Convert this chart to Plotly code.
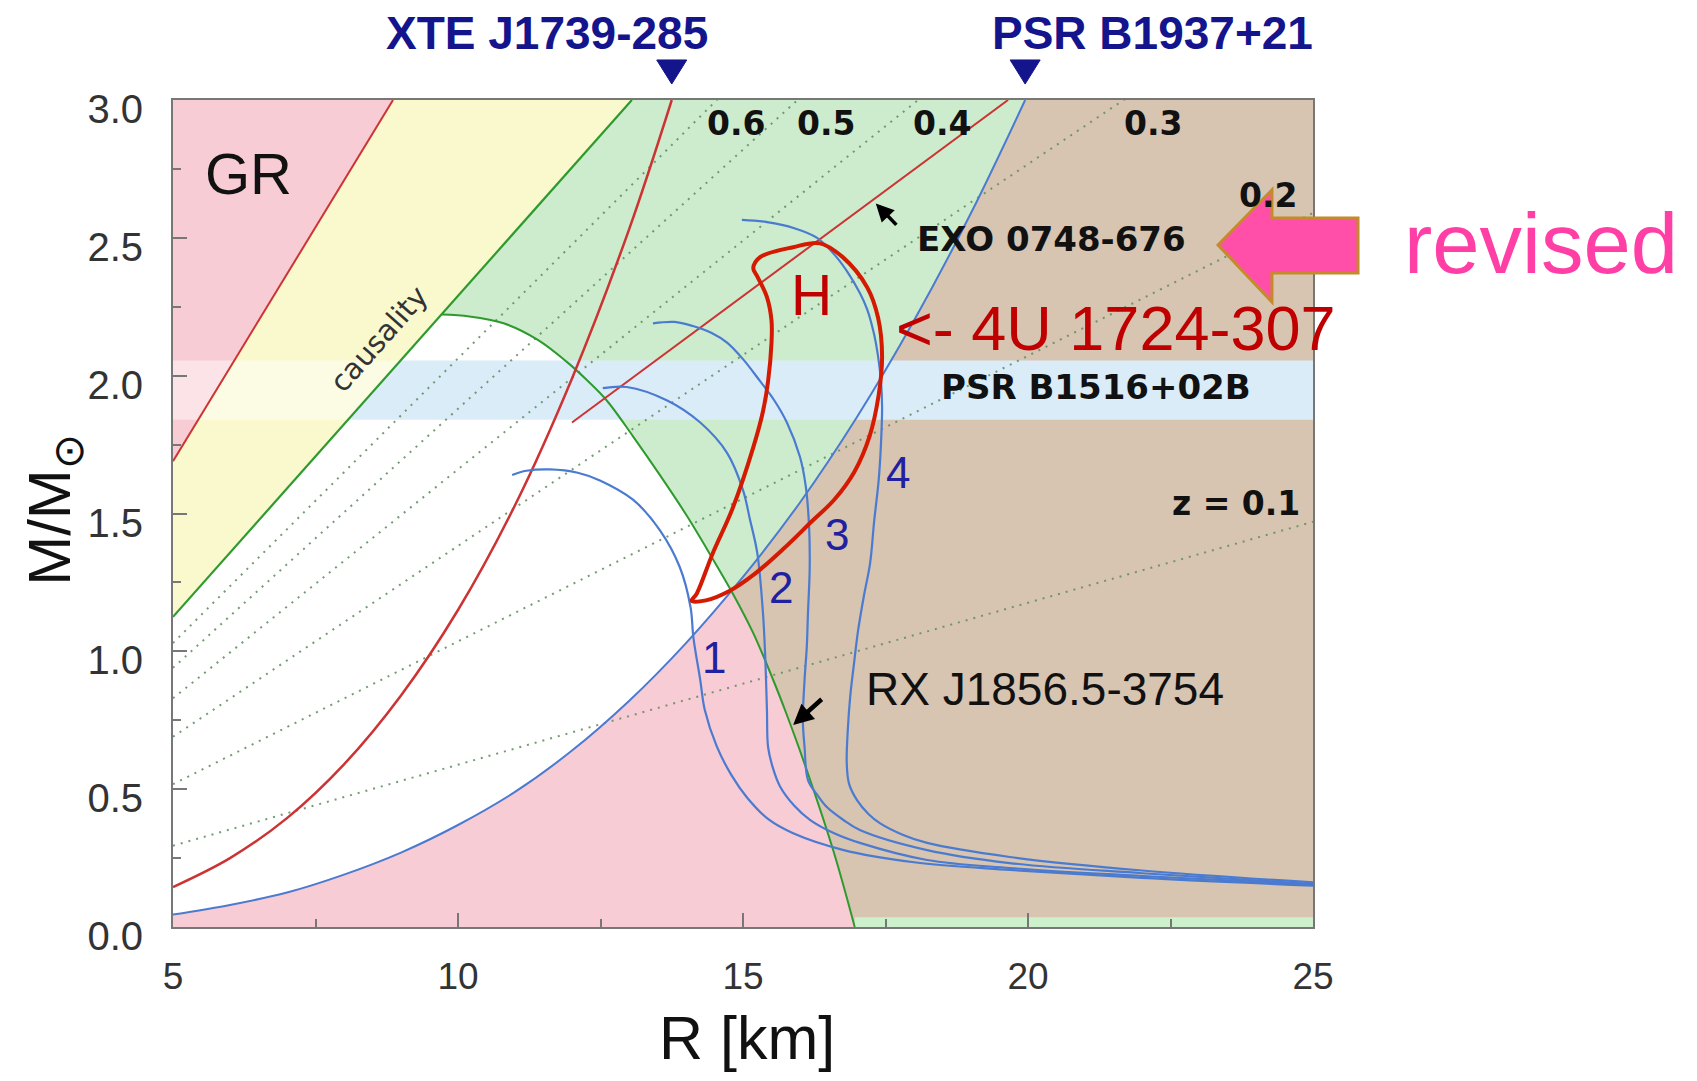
import numpy as np
import plotly.graph_objects as go

# ---------------- data (R in km, M in solar masses) ----------------
gr_R = [5.0, 8.86]
gr_M = [1.69, 3.0]

caus_R = [5.0, 13.05]
caus_M = [1.125, 3.0]

dome_R = [9.72, 10.2, 10.8, 11.4, 11.91, 12.26, 12.61, 13.07, 13.54, 14.02, 14.47, 14.82, 15.18, 15.53, 15.75, 16.05, 16.58, 16.96]
dome_M = [2.222, 2.215, 2.19, 2.13, 2.05, 1.984, 1.91, 1.78, 1.64, 1.49, 1.335, 1.21, 1.066, 0.896, 0.78, 0.61, 0.28, 0.0]

b1937_R = [5, 6, 7, 8, 9, 10, 11, 12, 13, 14, 15, 16, 17, 18, 19, 19.95]
b1937_M = [0.045, 0.08, 0.125, 0.19, 0.27, 0.37, 0.49, 0.64, 0.82, 1.03, 1.27, 1.54, 1.85, 2.2, 2.59, 3.0]

xte_R = [5, 6, 7, 8, 9, 10, 11, 12, 13, 13.75]
xte_M = [0.145, 0.25, 0.395, 0.59, 0.84, 1.15, 1.53, 1.99, 2.53, 3.0]

exo_R = [12.0, 19.65]
exo_M = [1.83, 3.0]

band_M = [1.84, 2.055]

z_labels = ["z = 0.1", "0.2", "0.3", "0.4", "0.5", "0.6"]
z_M_at_R5 = [0.295, 0.518, 0.69, 0.83, 0.94, 1.03]
z_M_at_R25 = [1.47, 2.59, 3.46, 4.15, 4.7, 5.16]

R1 = [10.95, 11.2, 11.61, 12.1, 12.49, 13.07, 13.54, 13.89, 14.08, 14.13, 14.25, 14.33, 14.54, 14.8, 15.07, 15.45, 15.88, 16.75, 18.0, 19.68, 22.0, 25.0]
M1 = [1.64, 1.655, 1.66, 1.648, 1.62, 1.55, 1.44, 1.306, 1.16, 1.05, 0.896, 0.787, 0.655, 0.55, 0.47, 0.39, 0.34, 0.28, 0.235, 0.207, 0.178, 0.15]

R2 = [12.54, 12.96, 13.67, 14.25, 14.72, 15.0, 15.12, 15.25, 15.35, 15.39, 15.42, 15.44, 15.52, 15.65, 15.9, 16.18, 16.6, 17.05, 18.23, 19.68, 22.0, 25.0]
M2 = [1.955, 1.959, 1.91, 1.83, 1.72, 1.585, 1.48, 1.357, 1.14, 0.98, 0.787, 0.653, 0.58, 0.51, 0.44, 0.388, 0.34, 0.305, 0.243, 0.214, 0.185, 0.153]

R3 = [13.42, 13.8, 14.12, 14.45, 14.72, 15.0, 15.3, 15.55, 15.77, 16.0, 16.1, 16.16, 16.17, 16.14, 16.12, 16.08, 16.05, 16.08, 16.14, 16.3, 16.47, 16.75, 17.05, 18.23, 19.68, 22.0, 25.0]
M3 = [2.19, 2.195, 2.18, 2.155, 2.12, 2.06, 1.98, 1.91, 1.83, 1.705, 1.6, 1.45, 1.3, 1.14, 1.02, 0.896, 0.75, 0.653, 0.533, 0.48, 0.435, 0.39, 0.352, 0.279, 0.232, 0.195, 0.156]

R4 = [14.98, 15.42, 15.9, 16.3, 16.6, 16.82, 17.05, 17.18, 17.3, 17.37, 17.42, 17.44, 17.42, 17.38, 17.3, 17.23, 17.12, 17.02, 16.95, 16.88, 16.84, 16.82, 16.86, 17.0, 17.2, 17.4, 17.8, 18.23, 19.68, 22.0, 25.0]
M4 = [2.565, 2.557, 2.535, 2.50, 2.44, 2.38, 2.30, 2.24, 2.15, 2.07, 1.98, 1.886, 1.75, 1.62, 1.47, 1.32, 1.2, 1.077, 0.96, 0.834, 0.72, 0.595, 0.52, 0.46, 0.41, 0.377, 0.335, 0.305, 0.254, 0.205, 0.162]

H_R = [17.44, 17.38, 17.22, 16.95, 16.6, 16.2, 15.7, 15.2, 14.77, 14.35, 14.1, 14.19, 14.47, 14.82, 15.18, 15.35, 15.44, 15.5, 15.5, 15.42, 15.25, 15.18, 15.3, 15.88, 16.35, 16.75, 17.18, 17.37, 17.44]
H_M = [2.07, 1.93, 1.78, 1.65, 1.55, 1.47, 1.37, 1.28, 1.22, 1.185, 1.183, 1.21, 1.356, 1.52, 1.74, 1.87, 1.98, 2.12, 2.2, 2.285, 2.36, 2.39, 2.43, 2.466, 2.48, 2.43, 2.32, 2.21, 2.07]

curve_labels = ["1", "2", "3", "4"]
curve_label_R = [14.49, 15.67, 16.65, 17.72]
curve_label_M = [0.979, 1.23, 1.425, 1.647]

pulsar_names = ["XTE J1739-285", "PSR B1937+21"]
pulsar_R = [13.75, 19.95]
pulsar_label_R = [11.56, 22.19]

x_ticks = [5, 10, 15, 20, 25]
y_ticks = [0.0, 0.5, 1.0, 1.5, 2.0, 2.5, 3.0]
y_ticktext = ["0.0", "0.5", "1.0", "1.5", "2.0", "2.5", "3.0"]

# ---------------- colours ----------------
C_PINK = "rgb(248,204,213)"
C_YEL = "rgb(250,249,206)"
C_GREEN = "rgb(205,236,205)"
C_TAN = "rgb(215,196,177)"
C_BAND = "rgb(219,236,249)"
C_STRIP = "rgb(205,240,205)"
C_BLUE = "#4a7bd0"
C_RED = "#cc3333"
C_GL = "#2e9a2e"
NAVY = "#14148c"

# ---------------- geometry helpers ----------------
grid = np.linspace(13.5, 16.0, 2501)
diff = np.interp(grid, b1937_R, b1937_M) - np.interp(grid, dome_R, dome_M)
Rc = float(grid[np.argmax(diff > 0)])
Mc = float(np.interp(Rc, b1937_R, b1937_M))

bl_lo = [(r, m) for r, m in zip(b1937_R, b1937_M) if r < Rc]
bl_hi = [(r, m) for r, m in zip(b1937_R, b1937_M) if r > Rc]
dm_lo = [(r, m) for r, m in zip(dome_R, dome_M) if r < Rc]
dm_hi = [(r, m) for r, m in zip(dome_R, dome_M) if r > Rc]

fig = go.Figure()


def poly(pts, color, opacity=1.0):
    xs = [p[0] for p in pts] + [pts[0][0]]
    ys = [p[1] for p in pts] + [pts[0][1]]
    fig.add_trace(go.Scatter(x=xs, y=ys, mode="lines", fill="toself", fillcolor=color,
                             line=dict(width=0, color=color), opacity=opacity,
                             hoverinfo="skip", showlegend=False))


# GR forbidden zone
poly([(gr_R[0], gr_M[0]), (gr_R[1], gr_M[1]), (5.0, 3.0)], C_PINK)
# yellow zone between GR and causality
poly([(gr_R[0], gr_M[0]), (gr_R[1], gr_M[1]), (caus_R[1], caus_M[1]), (caus_R[0], caus_M[0])], C_YEL)
# pink bottom zone
poly([(5.0, 0.0)] + bl_lo + [(Rc, Mc)] + dm_hi, C_PINK)
# green zone
poly(dm_lo + [(Rc, Mc)] + bl_hi + [(caus_R[1], caus_M[1])], C_GREEN)
# tan zone
poly([(Rc, Mc)] + bl_hi + [(25.0, 3.0), (25.0, 0.0)] + dm_hi[::-1], C_TAN)
# bottom green strip
poly([(dome_R[-1], 0.0), (25.0, 0.0), (25.0, 0.035), (dome_R[-1], 0.035)], C_STRIP)
# PSR B1516+02B band
xc_lo = float(np.interp(band_M[0], caus_M, caus_R))
xc_hi = float(np.interp(band_M[1], caus_M, caus_R))
poly([(5.0, band_M[0]), (xc_lo, band_M[0]), (xc_hi, band_M[1]), (5.0, band_M[1])], "rgba(255,255,255,0.45)")
poly([(xc_lo, band_M[0]), (25.0, band_M[0]), (25.0, band_M[1]), (xc_hi, band_M[1])], C_BAND)

# redshift dotted lines
for m5, m25 in zip(z_M_at_R5, z_M_at_R25):
    fig.add_trace(go.Scatter(x=[5.0, 25.0], y=[m5, m25], mode="lines",
                             line=dict(color="rgba(100,145,100,0.9)", width=2, dash="2px,6px"),
                             hoverinfo="skip", showlegend=False))


def line(xs, ys, color, width=2, shape="linear"):
    fig.add_trace(go.Scatter(x=xs, y=ys, mode="lines", line=dict(color=color, width=width, shape=shape),
                             hoverinfo="skip", showlegend=False))


line(gr_R, gr_M, C_RED, 2)
line(caus_R, caus_M, C_GL, 2.2)
line(dome_R, dome_M, C_GL, 2, "spline")
line(xte_R, xte_M, C_RED, 2.5, "spline")
line(exo_R, exo_M, C_RED, 2)
line(b1937_R, b1937_M, C_BLUE, 2, "spline")
for rr, mm in [(R1, M1), (R2, M2), (R3, M3), (R4, M4)]:
    line(rr, mm, C_BLUE, 2.2, "spline")
line(H_R, H_M, "#d41a00", 4, "spline")

C = dict(xanchor="center", yanchor="middle", showarrow=False)
ann = []
for name, r in zip(pulsar_names, pulsar_label_R):
    ann.append(dict(x=r, y=1.081, xref="x", yref="paper", text="<b>%s</b>" % name,
                    font=dict(family="Liberation Sans", size=46, color=NAVY), **C))

ann.append(dict(x=6.33, y=2.735, text="GR",
                font=dict(family="Liberation Sans", size=58, color="#111"), **C))
ann.append(dict(x=8.61, y=2.133, text="causality", textangle=-48.4,
                font=dict(family="DejaVu Sans", size=29, color="#333"), **C))

zpos = {"0.6": (14.88, 2.913), "0.5": (16.46, 2.913), "0.4": (18.49, 2.913), "0.3": (22.19, 2.913),
        "0.2": (24.21, 2.655), "z = 0.1": (23.65, 1.538)}
for lab in z_labels:
    px, py = zpos[lab]
    ann.append(dict(x=px, y=py, text="<b>%s</b>" % lab,
                    font=dict(family="DejaVu Sans", size=33, color="#111"), **C))

ann.append(dict(x=20.42, y=2.495, text="<b>EXO 0748-676</b>",
                font=dict(family="DejaVu Sans", size=34, color="#111"), **C))
ann.append(dict(x=21.19, y=1.959, text="<b>PSR B1516+02B</b>",
                font=dict(family="DejaVu Sans", size=34, color="#111"), **C))
ann.append(dict(x=17.12, y=0.863, text="RX J1856.5-3754", xanchor="left", yanchor="middle", showarrow=False,
                font=dict(family="Liberation Sans", size=46, color="#111")))
ann.append(dict(x=17.65, y=2.173, text="<- 4U 1724-307", xanchor="left", yanchor="middle", showarrow=False,
                font=dict(family="Liberation Sans", size=63, color="#c00000")))
ann.append(dict(x=16.21, y=2.292, text="H",
                font=dict(family="Liberation Sans", size=57, color="#c00000"), **C))
for lab, r, m in zip(curve_labels, curve_label_R, curve_label_M):
    ann.append(dict(x=r, y=m, text=lab,
                    font=dict(family="Liberation Sans", size=44, color="#2020a0"), **C))

# arrows
ann.append(dict(x=15.88, y=0.733, ax=30, ay=-27, text="", showarrow=True, arrowhead=2,
                arrowsize=0.9, arrowwidth=4.5, arrowcolor="#000"))
ann.append(dict(x=17.33, y=2.625, ax=22, ay=23, text="", showarrow=True, arrowhead=2,
                arrowsize=1.0, arrowwidth=3.6, arrowcolor="#000"))

ann.append(dict(x=1.2, y=0.826, xref="paper", yref="paper", text="revised",
                font=dict(family="Liberation Sans", size=85, color="#ff3fa5"), **C))
ann.append(dict(x=0.5035, y=-0.134, xref="paper", yref="paper", text="R [km]",
                font=dict(family="Liberation Sans", size=61, color="#111"), **C))
ann.append(dict(x=-0.104, y=0.505, xref="paper", yref="paper", text="M/M<sub>⊙</sub>",
                textangle=-90, font=dict(family="Liberation Sans", size=60, color="#111"), **C))

# geometry of the frame in page pixels (used for decorations outside the data area)
L, T, W, H = 173.0, 100.0, 1140.0, 827.0
KM_PER_PX = 20.0 / W


def px2paper(x, y):
    return (x - L) / W, (T + H - y) / H


shapes = []
# pulsar spin-limit triangles just above the frame, centred on the curves' top ends
tri_top = (T + H - 60) / H
tri_tip = (T + H - 84) / H
half_w = 15 * KM_PER_PX
for r in pulsar_R:
    shapes.append(dict(type="path", xref="x", yref="paper",
                       path="M %.4f,%.4f L %.4f,%.4f L %.4f,%.4f Z" % (r - half_w, tri_top, r + half_w, tri_top, r, tri_tip),
                       fillcolor=NAVY, line=dict(color=NAVY, width=1), layer="above"))

# pink block arrow
arrow_px = [(1218, 245), (1272, 190), (1272, 218), (1358, 218), (1358, 273), (1272, 273), (1272, 302)]
pp = [px2paper(x, y) for x, y in arrow_px]
shapes.append(dict(type="path", xref="paper", yref="paper",
                   path="M " + " L ".join("%.4f,%.4f" % p for p in pp) + " Z",
                   fillcolor="#ff4fa8", line=dict(color="#c58a2a", width=3), layer="above"))

# the page body has an 8px margin, so the figure is shifted by 8px
fig.update_layout(
    width=1681, height=1065, autosize=False,
    margin=dict(l=165, r=376, t=92, b=146),
    paper_bgcolor="white", plot_bgcolor="white",
    showlegend=False,
    annotations=ann,
    shapes=shapes,
    xaxis=dict(range=[5, 25], tickvals=x_ticks, ticks="inside", ticklen=14, tickwidth=1.5,
               tickcolor="#777", showline=True, linecolor="#777", linewidth=2, mirror=True,
               showgrid=False, zeroline=False, ticklabelstandoff=16,
               minor=dict(tickvals=[7.5, 12.5, 17.5, 22.5], ticks="inside", ticklen=8, tickcolor="#777"),
               tickfont=dict(family="Liberation Sans", size=37, color="#333")),
    yaxis=dict(range=[0, 3], tickvals=y_ticks, ticktext=y_ticktext, ticks="inside", ticklen=14,
               tickwidth=1.5, tickcolor="#777", showline=True, linecolor="#777", linewidth=2,
               mirror=True, showgrid=False, zeroline=False, ticklabelstandoff=20, ticklabelshift=9,
               minor=dict(tickvals=[0.25, 0.75, 1.25, 1.75, 2.25, 2.75], ticks="inside", ticklen=8,
                          tickcolor="#777"),
               tickfont=dict(family="Liberation Sans", size=40, color="#333")),
)

fig.write_html("out.html")
